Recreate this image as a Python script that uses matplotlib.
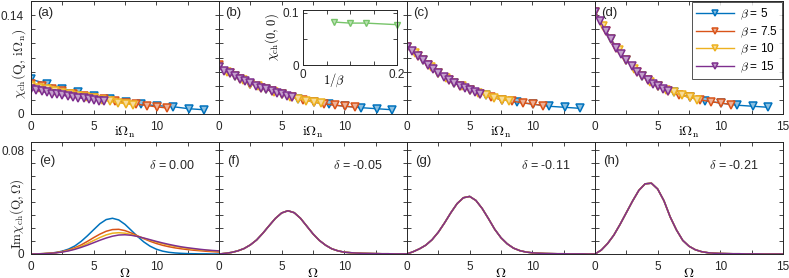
import matplotlib.pyplot as plt
from matplotlib.colors import to_rgb

plt.rcParams['font.family'] = ['Liberation Sans', 'DejaVu Sans']
plt.rcParams['mathtext.fontset'] = 'cm'

# Matsubara frequencies
wn_b5 = [0, 1.26, 2.51, 3.77, 5.03, 6.28, 7.54, 8.80, 10.05, 11.31, 12.57, 13.82]
wn_b75 = [0, 0.84, 1.68, 2.51, 3.35, 4.19, 5.03, 5.86, 6.70, 7.54, 8.38, 9.22, 10.05, 10.89]
wn_b10 = [0, 0.63, 1.26, 1.88, 2.51, 3.14, 3.77, 4.40, 5.03, 5.65, 6.28, 6.91, 7.54, 8.17]
wn_b15 = [0, 0.42, 0.84, 1.26, 1.68, 2.09, 2.51, 2.93, 3.35, 3.77, 4.19, 4.61, 5.03, 5.44, 5.86]

# (a)
chi_a_b5 = [0.049, 0.043, 0.036, 0.031, 0.0255, 0.021, 0.0174, 0.0137, 0.0118, 0.0104, 0.0075, 0.006]
chi_a_b75 = [0.0425, 0.039, 0.035, 0.032, 0.029, 0.026, 0.023, 0.021, 0.0185, 0.016, 0.014, 0.012, 0.010, 0.0085]
chi_a_b10 = [0.040, 0.037, 0.035, 0.033, 0.030, 0.028, 0.026, 0.024, 0.022, 0.020, 0.018, 0.016, 0.0145, 0.013]
chi_a_b15 = [0.035, 0.0335, 0.032, 0.0305, 0.029, 0.0278, 0.0265, 0.0253, 0.024, 0.023, 0.022, 0.021, 0.020, 0.019, 0.018]
# (b)
chi_b_b5 = [0.067, 0.0535, 0.043, 0.0348, 0.028, 0.0215, 0.017, 0.0135, 0.011, 0.009, 0.0075, 0.006]
chi_b_b75 = [0.069, 0.058, 0.050, 0.043, 0.0375, 0.032, 0.028, 0.0235, 0.0198, 0.017, 0.0145, 0.0125, 0.011, 0.0097]
chi_b_b10 = [0.067, 0.060, 0.0535, 0.048, 0.043, 0.039, 0.0348, 0.031, 0.028, 0.0245, 0.0215, 0.019, 0.017, 0.015]
chi_b_b15 = [0.066, 0.0615, 0.0575, 0.0535, 0.050, 0.0465, 0.0432, 0.040, 0.0375, 0.0348, 0.032, 0.0295, 0.028, 0.0255, 0.0235]
# (c)
chi_c_b5 = [0.095, 0.076, 0.058, 0.044, 0.034, 0.0265, 0.0205, 0.0165, 0.014, 0.011, 0.0095, 0.008]
chi_c_b75 = [0.095, 0.0825, 0.070, 0.058, 0.0485, 0.040, 0.034, 0.029, 0.024, 0.0205, 0.018, 0.016, 0.014, 0.012]
chi_c_b10 = [0.095, 0.086, 0.076, 0.067, 0.058, 0.0505, 0.044, 0.039, 0.034, 0.030, 0.0265, 0.023, 0.0205, 0.0185]
chi_c_b15 = [0.095, 0.089, 0.0825, 0.076, 0.070, 0.064, 0.058, 0.053, 0.0485, 0.044, 0.040, 0.037, 0.034, 0.031, 0.029]
# (d)
chi_d_b5 = [0.145, 0.106, 0.076, 0.054, 0.039, 0.0305, 0.0235, 0.0185, 0.0155, 0.0125, 0.011, 0.0095]
chi_d_b75 = [0.145, 0.118, 0.094, 0.076, 0.0595, 0.0485, 0.039, 0.033, 0.0275, 0.0235, 0.020, 0.0175, 0.0155, 0.0133]
chi_d_b10 = [0.145, 0.124, 0.106, 0.090, 0.076, 0.064, 0.054, 0.045, 0.039, 0.034, 0.0305, 0.0265, 0.0235, 0.0205]
chi_d_b15 = [0.145, 0.131, 0.118, 0.106, 0.094, 0.085, 0.076, 0.0675, 0.0595, 0.054, 0.0485, 0.043, 0.039, 0.0355, 0.033]

# inset of (b): chi(0,0) vs 1/beta
inv_beta = [0.0667, 0.1, 0.1333, 0.2]
chi00 = [0.082, 0.080, 0.080, 0.077]

# real frequency grid of the bottom panels
omega = [0, 0.5, 1, 1.5, 2, 2.5, 3, 3.5, 4, 4.5, 5, 5.5, 6, 6.5, 7, 7.5,
         8, 8.5, 9, 9.5, 10, 10.5, 11, 11.5, 12, 12.5, 13, 13.5, 14, 14.5, 15]
# (e) delta = 0.00
im_e_b5 = [0, 0.0001, 0.0003, 0.0006, 0.0012, 0.0022, 0.0038, 0.0062, 0.0097, 0.0140, 0.0187,
           0.0233, 0.0265, 0.0275, 0.0262, 0.0228, 0.0182, 0.0135, 0.0093, 0.0060, 0.0037,
           0.0022, 0.0013, 0.0008, 0.0005, 0.0003, 0.0002, 0.0001, 0.0001, 0, 0]
im_e_b75 = [0, 0.0001, 0.0003, 0.0006, 0.0011, 0.0019, 0.0031, 0.0048, 0.0070, 0.0097, 0.0126,
            0.0153, 0.0175, 0.0188, 0.0190, 0.0180, 0.0162, 0.0140, 0.0118, 0.0098, 0.0081,
            0.0067, 0.0056, 0.0047, 0.0040, 0.0034, 0.0029, 0.0025, 0.0021, 0.0018, 0.0015]
im_e_b10 = [0, 0.0001, 0.0003, 0.0006, 0.0010, 0.0017, 0.0027, 0.0041, 0.0059, 0.0080, 0.0104,
            0.0127, 0.0147, 0.0160, 0.0164, 0.0160, 0.0150, 0.0136, 0.0121, 0.0106, 0.0092,
            0.0079, 0.0068, 0.0058, 0.0050, 0.0043, 0.0037, 0.0032, 0.0028, 0.0024, 0.0021]
im_e_b15 = [0, 0.0001, 0.0002, 0.0005, 0.0009, 0.0015, 0.0024, 0.0036, 0.0051, 0.0068, 0.0087,
            0.0106, 0.0123, 0.0137, 0.0146, 0.0148, 0.0144, 0.0135, 0.0123, 0.0110, 0.0097,
            0.0085, 0.0074, 0.0064, 0.0055, 0.0048, 0.0042, 0.0036, 0.0031, 0.0027, 0.0024]
# (f), (g), (h): the four temperatures fall on top of each other
im_f = [0, 0.0005, 0.0012, 0.0024, 0.0042, 0.0070, 0.0108, 0.0160, 0.0218, 0.0274, 0.0316,
        0.0333, 0.0318, 0.0275, 0.0215, 0.0155, 0.0105, 0.0068, 0.0040, 0.0024, 0.0014,
        0.0010, 0.0007, 0.0005, 0.0004, 0.0003, 0.0002, 0.0002, 0.0001, 0.0001, 0.0001]
im_g = [0, 0.0018, 0.0040, 0.0068, 0.0110, 0.0168, 0.0240, 0.0318, 0.0388, 0.0433, 0.0443,
        0.0412, 0.0350, 0.0272, 0.0190, 0.0125, 0.0078, 0.0045, 0.0026, 0.0015, 0.0009,
        0.0006, 0.0004, 0.0003, 0.0002, 0.0002, 0.0001, 0.0001, 0.0001, 0, 0]
im_h = [0, 0.0030, 0.0080, 0.0145, 0.0228, 0.0318, 0.0408, 0.0490, 0.0540, 0.0545, 0.0500,
        0.0410, 0.0285, 0.0185, 0.0105, 0.0060, 0.0033, 0.0018, 0.0010, 0.0006, 0.0004,
        0.0003, 0.0002, 0.0002, 0.0001, 0.0001, 0.0001, 0, 0, 0, 0]

deltas = ['0.00', '-0.05', '-0.11', '-0.21']
beta_labels = ['5', '7.5', '10', '15']
colors = ['#0072BD', '#D95319', '#EDB120', '#7E2F8E']


def light(c, f=0.55):
    r, g, b = to_rgb(c)
    return (r + (1 - r) * f, g + (1 - g) * f, b + (1 - b) * f)


def style(ax):
    ax.tick_params(direction='in', top=True, right=True, length=3, width=0.6,
                   labelsize=8.5, pad=5, colors='#262626')
    for s in ax.spines.values():
        s.set_linewidth(0.7)
        s.set_color('#262626')


W, H = 789, 278


def box(l, t, w, h):
    return [l / W, 1 - (t + h) / H, w / W, h / H]


fig = plt.figure(figsize=(7.89, 2.78), dpi=100)
lefts = [31, 219, 407, 595]

wn_lists = [wn_b5, wn_b75, wn_b10, wn_b15]
top_data = [
    [chi_a_b5, chi_a_b75, chi_a_b10, chi_a_b15],
    [chi_b_b5, chi_b_b75, chi_b_b10, chi_b_b15],
    [chi_c_b5, chi_c_b75, chi_c_b10, chi_c_b15],
    [chi_d_b5, chi_d_b75, chi_d_b10, chi_d_b15],
]
bot_data = [
    [im_e_b5, im_e_b75, im_e_b10, im_e_b15],
    [im_f] * 4,
    [im_g] * 4,
    [im_h] * 4,
]

xticks = [0, 2.5, 5, 7.5, 10, 12.5, 15]

for i in range(4):
    # top row
    ax = fig.add_axes(box(lefts[i], 1, 188, 113))
    for x, y, c, b in zip(wn_lists, top_data[i], colors, beta_labels):
        ax.plot(x, y, '-v', color=c, lw=1, ms=5.3, mfc=light(c), mec=c, mew=1.1,
                label=r'$\beta$ = ' + b)
    ax.set_xlim(0, 15)
    ax.set_ylim(0, 0.16)
    ax.set_xticks(xticks)
    xl = ['0', '', '5', '', '10', '', '15' if i == 3 else '']
    ax.set_xticklabels(xl)
    ax.set_yticks([0, 0.02, 0.04, 0.06, 0.08, 0.10, 0.12, 0.14, 0.16])
    if i == 0:
        ax.set_yticklabels(['0', '', '', '', '', '', '', '0.14', ''])
    else:
        ax.set_yticklabels([])
    style(ax)
    ax.set_xlabel(r'$\mathrm{i}\Omega_{\rm n}$', fontsize=10)
    ax.xaxis.set_label_coords(0.5, -0.095)
    ax.text(0.035, 0.895, '(' + 'abcd'[i] + ')', transform=ax.transAxes,
            fontsize=9.5, va='center', ha='left', color='#262626')
    if i == 3:
        leg = ax.legend(loc='upper right', fontsize=8.5, frameon=True, fancybox=False,
                        edgecolor='#262626', handlelength=3.2, borderpad=0.35,
                        labelspacing=0.2, borderaxespad=0.12, numpoints=1,
                        handletextpad=0.5, markerscale=0.95)
        leg.get_frame().set_linewidth(0.7)

    # bottom row
    ax = fig.add_axes(box(lefts[i], 142, 188, 112))
    for y, c in zip(bot_data[i], colors):
        ax.plot(omega, y, '-', color=c, lw=1.1)
    ax.set_xlim(0, 15)
    ax.set_ylim(0, 0.0862)
    ax.set_xticks(xticks)
    ax.set_xticklabels(xl)
    ax.set_yticks([0, 0.01, 0.02, 0.03, 0.04, 0.05, 0.06, 0.07, 0.08])
    if i == 0:
        ax.set_yticklabels(['0', '', '', '', '', '', '', '', '0.08'])
    else:
        ax.set_yticklabels([])
    style(ax)
    ax.set_xlabel(r'$\Omega$', fontsize=10)
    ax.xaxis.set_label_coords(0.5, -0.11)
    ax.text(0.045, 0.83, '(' + 'efgh'[i] + ')', transform=ax.transAxes,
            fontsize=9.5, va='center', ha='left', color='#262626')
    ax.text(0.87, 0.79, r'$\delta$ = ' + deltas[i], transform=ax.transAxes,
            fontsize=9, va='center', ha='right', color='#262626')

fig.text(19 / W, 1 - 64 / H, r'$\chi_{\rm ch}(\mathrm{Q},\,\mathrm{i}\Omega_{\rm n})$',
         rotation=90, ha='center', va='center', fontsize=10, color='#262626')
fig.text(17 / W, 1 - 214 / H, r'$\mathrm{Im}\chi_{\rm ch}(\mathrm{Q},\Omega)$',
         rotation=90, ha='center', va='center', fontsize=9.5, color='#262626')

# inset in (b)
ins = fig.add_axes(box(303, 10, 94, 55))
ins.plot(inv_beta, chi00, '-v', color='#77C46A', lw=1, ms=5, mfc=light('#77C46A', 0.5),
         mew=1.0, clip_on=False)
ins.set_xlim(0, 0.2)
ins.set_ylim(0, 0.105)
ins.set_xticks([0, 0.05, 0.1, 0.15, 0.2])
ins.set_xticklabels(['0', '', '', '', '0.2'])
ins.set_yticks([0, 0.05, 0.1])
ins.set_yticklabels(['0', '', '0.1'])
style(ins)
ins.tick_params(labelsize=8.5, pad=3)
ins.set_xlabel(r'$1/\beta$', fontsize=9)
ins.xaxis.set_label_coords(0.33, -0.12)
ins.set_ylabel(r'$\chi_{\rm ch}(0,\,0)$', fontsize=9, labelpad=1)

fig.savefig('out.png', dpi=100)
